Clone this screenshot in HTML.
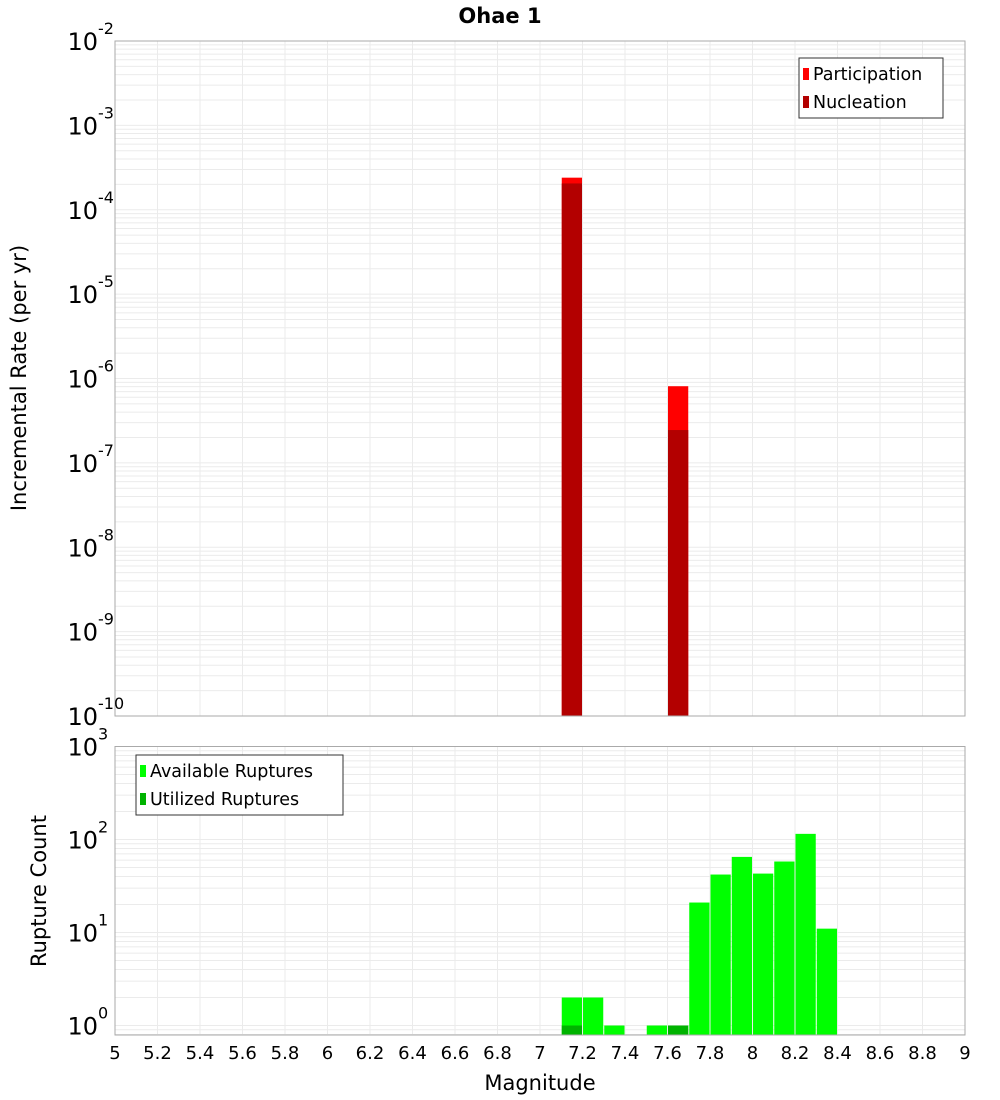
<!DOCTYPE html>
<html><head><meta charset="utf-8"><style>
body{margin:0;background:#fff;}
svg{display:block;font-family:"DejaVu Sans","Liberation Sans",sans-serif;}
</style></head><body>
<svg id="chart" width="1000" height="1100" xmlns="http://www.w3.org/2000/svg"></svg>
<script>
const magBins = [7.1, 7.6];
const participation = [2.4e-4, 8.1e-7];
const nucleation = [2.05e-4, 2.45e-7];
const countBins = [7.1, 7.2, 7.3, 7.5, 7.6, 7.7, 7.8, 7.9, 8.0, 8.1, 8.2, 8.3];
const available = [2, 2, 1, 1, 1, 21, 42, 65, 43, 58, 115, 11];
const utilBins = [7.1, 7.6];
const utilized = [1, 1];
const xTicks = [5,5.2,5.4,5.6,5.8,6,6.2,6.4,6.6,6.8,7,7.2,7.4,7.6,7.8,8,8.2,8.4,8.6,8.8,9];
const topDecades = [-2,-3,-4,-5,-6,-7,-8,-9,-10];
const botDecades = [3,2,1,0];

const svg = document.getElementById('chart');
const NS = 'http://www.w3.org/2000/svg';
function mk(tag, attrs, parent){const e=document.createElementNS(NS,tag);for(const k in attrs)e.setAttribute(k,attrs[k]);(parent||svg).appendChild(e);return e;}
const X0=115,X1=965;
const x = m => X0 + (m-5)/4*(X1-X0);
const T0=41,T1=716;
const yTop = v => T0 + (-2 - Math.log10(v))*(T1-T0)/8;
const B0=746.5,B1=1035,BDEC=93;
const yBot = v => B0 + (3 - Math.log10(v))*BDEC;

function grid(yf, decs, yMin, yMax, name){
  const g=mk('g',{});
  
  
  xTicks.forEach(t=>{mk('line',{x1:x(t),x2:x(t),y1:yMin,y2:yMax,stroke:'#ebebeb','stroke-width':1},g);});
  for(let d=Math.min(...decs)-1; d<=Math.max(...decs); d++){
    for(let k=1;k<10;k++){const yy=yf(k*Math.pow(10,d)); if(yy>=yMin&&yy<=yMax) mk('line',{x1:X0,x2:X1,y1:yy,y2:yy,stroke:'#ebebeb','stroke-width':1},g);}
  }
}
grid(yTop, topDecades, T0, T1, 'top-grid');
grid(yBot, botDecades, B0, B1, 'bottom-grid');

magBins.forEach((m,i)=>{
  const r=mk('rect',{x:x(m)+0.5,y:yTop(participation[i]),width:x(m+0.1)-x(m)-1,height:T1-yTop(participation[i]),fill:'#ff0000'});
  
  
  const n=mk('rect',{x:x(m)+0.5,y:yTop(nucleation[i]),width:x(m+0.1)-x(m)-1,height:T1-yTop(nucleation[i]),fill:'#b30000'});
  
  
});
countBins.forEach((m,i)=>{
  const yy=yBot(available[i]);
  const r=mk('rect',{x:x(m)+0.5,y:yy,width:x(m+0.1)-x(m)-1,height:B1-yy,fill:'#00ff00'});
  
  
});
utilBins.forEach((m,i)=>{
  const yy=yBot(utilized[i]);
  const r=mk('rect',{x:x(m)+0.5,y:yy,width:x(m+0.1)-x(m)-1,height:B1-yy,fill:'#00b300'});
  
  
});
mk('rect',{x:X0,y:T0,width:X1-X0,height:T1-T0,fill:'none',stroke:'#aaa','stroke-width':1});
mk('rect',{x:X0,y:B0,width:X1-X0,height:B1-B0,fill:'none',stroke:'#aaa','stroke-width':1});

function decLabel(yy, e, name){
  const t=mk('text',{x:96,y:yy+9,'text-anchor':'end','font-size':24,fill:'#000'});
  
  
  const a=document.createElementNS(NS,'tspan');a.textContent='10';t.appendChild(a);
  const b=document.createElementNS(NS,'tspan');b.setAttribute('dy','-16');b.setAttribute('font-size','16');b.textContent=String(e);t.appendChild(b);
  const s=mk('text',{x:98,y:yy-7,'font-size':16,fill:'#000'});
  s.textContent=String(e);
  
  
  t.removeChild(b);
  t.setAttribute('x',98);
}
topDecades.forEach(d=>decLabel(yTop(Math.pow(10,d)), d, 'top-y-tick'));
botDecades.forEach(d=>decLabel(yBot(Math.pow(10,d)), d, 'bottom-y-tick'));
xTicks.forEach(t=>{
  const e=mk('text',{x:x(t),y:1059,'text-anchor':'middle','font-size':18,fill:'#000'});
  e.textContent=String(t);
  
  
});
let t=mk('text',{x:500,y:23,'text-anchor':'middle','font-size':21,'font-weight':'bold'});t.textContent='Ohae 1';

t=mk('text',{x:540,y:1090,'text-anchor':'middle','font-size':21});t.textContent='Magnitude';

t=mk('text',{x:0,y:0,'text-anchor':'middle','font-size':21,transform:'translate(26,378) rotate(-90)'});t.textContent='Incremental Rate (per yr)';

t=mk('text',{x:0,y:0,'text-anchor':'middle','font-size':21,transform:'translate(46,891) rotate(-90)'});t.textContent='Rupture Count';


function legend(lx,ly,w,items,name){
  const g=mk('g',{});
  
  
  mk('rect',{x:lx,y:ly,width:w,height:60,fill:'#fff',stroke:'#333','stroke-width':1},g);
  items.forEach((it,i)=>{
    mk('rect',{x:lx+4,y:ly+10+i*28,width:6,height:12,fill:it[1]},g);
    const tx=mk('text',{x:lx+14,y:ly+22+i*28,'font-size':17.5},g);tx.textContent=it[0];
  });
}
legend(799,58,144,[['Participation','#ff0000'],['Nucleation','#b30000']],'top-legend');
legend(136,755,207,[['Available Ruptures','#00ff00'],['Utilized Ruptures','#00b300']],'bottom-legend');
</script>
</body></html>
